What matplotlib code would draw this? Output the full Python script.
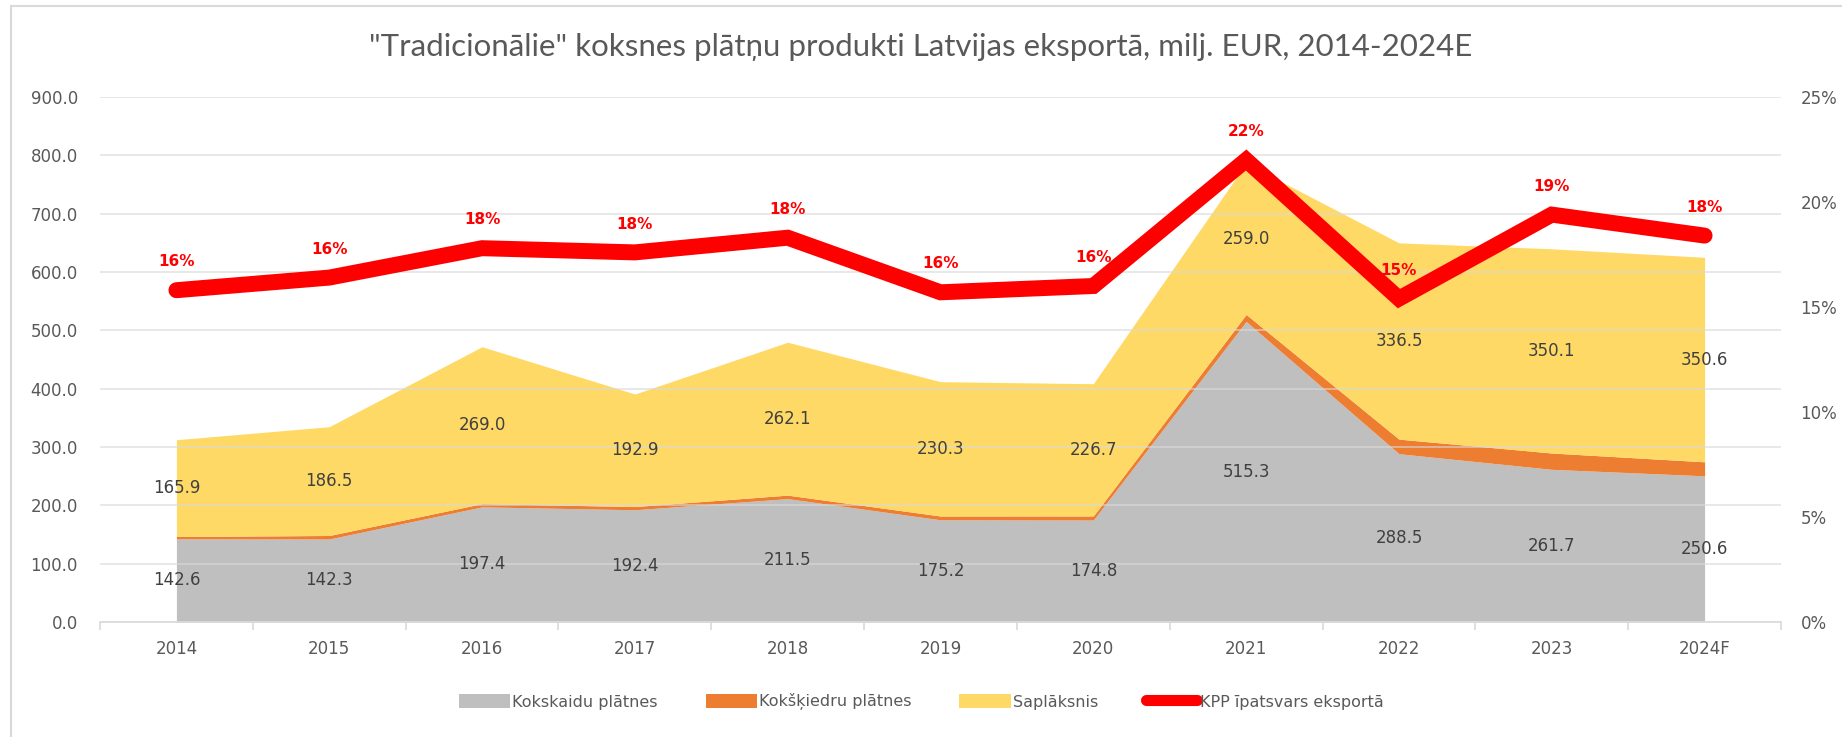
import matplotlib
matplotlib.use("Agg")
import matplotlib.pyplot as plt
import numpy as np
from matplotlib.patches import Rectangle, Patch
from matplotlib.lines import Line2D

years = ["2014", "2015", "2016", "2017", "2018", "2019", "2020", "2021", "2022", "2023", "2024F"]
kokskaidu = [142.6, 142.3, 197.4, 192.4, 211.5, 175.2, 174.8, 515.3, 288.5, 261.7, 250.6]
koksskiedru = [4.0, 6.0, 5.5, 5.5, 6.0, 6.5, 7.0, 12.0, 25.0, 28.0, 24.0]
saplaksnis = [165.9, 186.5, 269.0, 192.9, 262.1, 230.3, 226.7, 259.0, 336.5, 350.1, 350.6]
kpp_share = [15.8, 16.4, 17.8, 17.6, 18.3, 15.7, 16.0, 22.0, 15.4, 19.4, 18.4]

left_ticks = [0, 100, 200, 300, 400, 500, 600, 700, 800, 900]
right_ticks = [0, 5, 10, 15, 20, 25]

title = '"Tradicionālie" koksnes plātņu produkti Latvijas eksportā, milj. EUR, 2014-2024E'
names = ["Kokskaidu plātnes", "Kokšķiedru plātnes", "Saplāksnis", "KPP īpatsvars eksportā"]

plt.rcParams["font.family"] = ["DejaVu Sans"]
TITLE_FONT = ["Lato", "DejaVu Sans"]

c_gray = "#BFBFBF"
c_orange = "#ED7D31"
c_yellow = "#FFD966"
c_red = "#FF0000"
c_text = "#595959"
c_lbl = "#404040"
c_grid = "#D9D9D9"

W, H = 1842, 737
fig = plt.figure(figsize=(W / 100, H / 100), dpi=100)
ax = fig.add_axes([100 / W, 1 - 622 / H, (1781 - 100) / W, (622 - 97) / H])

x = np.arange(len(years))
k1 = np.array(kokskaidu)
k2 = np.array(koksskiedru)
k3 = np.array(saplaksnis)

ax.fill_between(x, 0, k1, color=c_gray, lw=0, zorder=1)
ax.fill_between(x, k1, k1 + k2, color=c_orange, lw=0, zorder=1)
ax.fill_between(x, k1 + k2, k1 + k2 + k3, color=c_yellow, lw=0, zorder=1)

ax.set_xlim(-0.5, len(years) - 0.5)
ax.set_ylim(0, 900)
ax.set_yticks(left_ticks)
ax.set_yticklabels([f"{v:.1f}" for v in left_ticks])
ax.grid(axis="y", color=c_grid, lw=1.2, alpha=0.7, zorder=2)
ax.set_axisbelow(False)
for s in ["top", "right", "left"]:
    ax.spines[s].set_visible(False)
ax.spines["bottom"].set_color(c_grid)
ax.spines["bottom"].set_linewidth(1.2)
ax.spines["bottom"].set_zorder(3)
ax.tick_params(axis="y", length=0, labelsize=12, labelcolor=c_text, pad=16)
ax.set_xticks(x)
ax.set_xticklabels(years)
ax.tick_params(axis="x", which="major", length=0, labelsize=12, labelcolor=c_text, pad=13)
ax.set_xticks(np.arange(-0.5, len(years), 1.0), minor=True)
ax.tick_params(axis="x", which="minor", length=6, color=c_grid, width=1.2, direction="out")

# data labels
for i in range(len(years)):
    ax.text(x[i], k1[i] / 2, f"{k1[i]:.1f}", ha="center", va="center",
            fontsize=12, color=c_lbl, zorder=5)
    ax.text(x[i], k1[i] + k2[i] + k3[i] / 2, f"{k3[i]:.1f}", ha="center", va="center",
            fontsize=12, color=c_lbl, zorder=5)

ax2 = ax.twinx()
ax2.set_ylim(0, 25)
ax2.set_yticks(right_ticks)
ax2.set_yticklabels([f"{v}%" for v in right_ticks])
for s in ["top", "right", "left", "bottom"]:
    ax2.spines[s].set_visible(False)
ax2.tick_params(axis="y", length=0, labelsize=12, labelcolor=c_text, pad=14)
ax2.plot(x, kpp_share, color=c_red, lw=11.5, solid_capstyle="round", solid_joinstyle="miter", zorder=6)
for i in range(len(years)):
    ax2.annotate(f"{kpp_share[i]:.0f}%", (x[i], kpp_share[i]), xytext=(0, 15),
                 textcoords="offset points", ha="center", va="bottom",
                 fontsize=11, color=c_red, fontweight="bold", zorder=7)

fig.text(0.5, 1 - 47 / H, title, ha="center", va="center", fontsize=22.5,
         color=c_text, family=TITLE_FONT)

handles = [Patch(facecolor=c_gray, edgecolor="none"),
           Patch(facecolor=c_orange, edgecolor="none"),
           Patch(facecolor=c_yellow, edgecolor="none"),
           Line2D([0], [0], color=c_red, lw=8, solid_capstyle="round")]
fig.legend(handles, names, loc="center", bbox_to_anchor=(0.5, 1 - 702 / H), ncol=4,
           frameon=False, fontsize=11.5, labelcolor=c_text, handlelength=3.2,
           handleheight=1.0, columnspacing=3.0, handletextpad=0.15)

fig.add_artist(Rectangle((11 / W, -0.1), 1.2, 1 - 6 / H + 0.1, transform=fig.transFigure,
                         fill=False, edgecolor="#D9D9D9", lw=1.5))

fig.savefig("out.png", dpi=100, facecolor="white")
